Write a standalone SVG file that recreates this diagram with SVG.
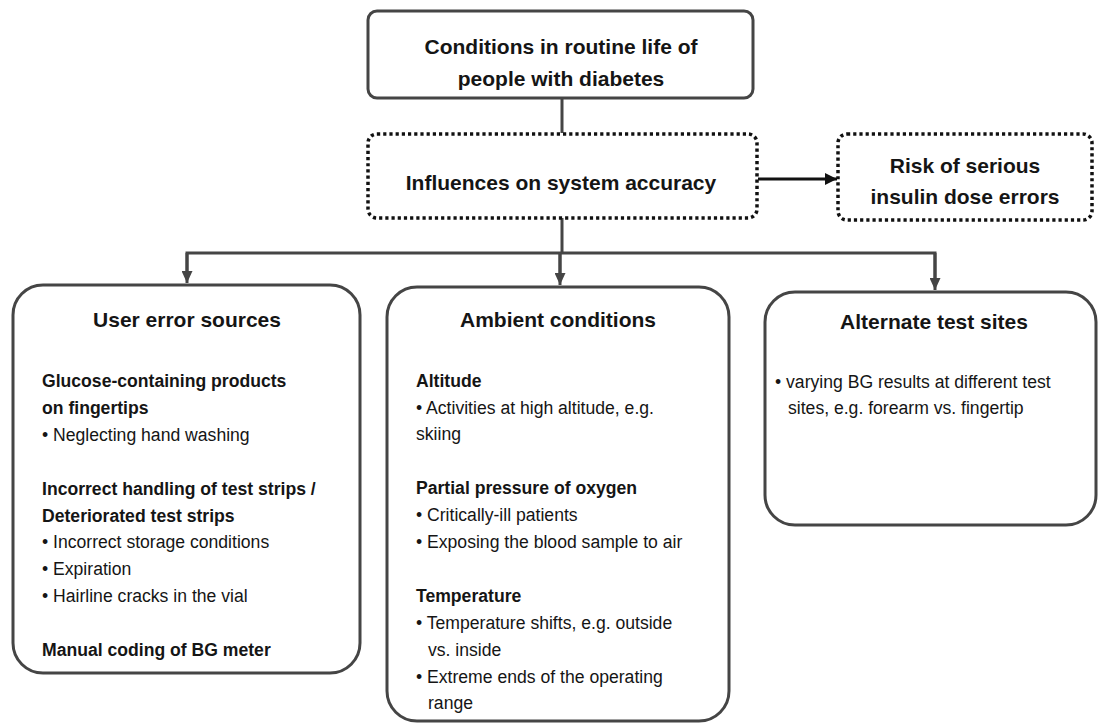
<svg xmlns="http://www.w3.org/2000/svg" width="1099" height="724" viewBox="0 0 1099 724">
<style>
text{font-family:"Liberation Sans",Arial,sans-serif;fill:#151515}
.h{font-size:21px;font-weight:bold;text-anchor:middle}
.s{font-size:17.6px;font-weight:bold}
.b{font-size:17.6px}
.solid{fill:#fff;stroke:#454545;stroke-width:3}
.dot{fill:#fff;stroke:#111;stroke-width:3.5;stroke-dasharray:3.2 3}
.ln{fill:none;stroke:#454545;stroke-width:3}
</style>
<defs>
<marker id="ah" markerWidth="11" markerHeight="12" refX="5.5" refY="12" orient="0" markerUnits="userSpaceOnUse">
<path d="M0,0 L11,0 L5.5,12 z" fill="#454545"/>
</marker>
<marker id="ahk" markerWidth="12" markerHeight="12" refX="12" refY="6" orient="auto" markerUnits="userSpaceOnUse">
<path d="M0,0 L12,6 L0,12 z" fill="#111"/>
</marker>
</defs>
<g id="connectors">
<line class="ln" x1="562" y1="98" x2="562" y2="133"/>
<line x1="758" y1="179" x2="837" y2="179" stroke="#111" stroke-width="3" marker-end="url(#ahk)"/>
<line class="ln" x1="562" y1="218" x2="562" y2="253"/>
<polyline class="ln" points="187,272 187,253 935,253 935,278"/>
<line class="ln" x1="187" y1="253" x2="187" y2="283" stroke-width="0" marker-end="url(#ah)"/>
<line class="ln" x1="560" y1="253" x2="560" y2="275"/>
<line class="ln" x1="560" y1="253" x2="560" y2="285" stroke-width="0" marker-end="url(#ah)"/>
<line class="ln" x1="935" y1="253" x2="935" y2="290" stroke-width="0" marker-end="url(#ah)"/>
</g>
<g id="n-conditions">
<rect class="solid" x="368" y="11" width="385" height="87" rx="9"/>
<text class="h" x="561" y="54">Conditions in routine life of</text>
<text class="h" x="561" y="86">people with diabetes</text>
</g>
<g id="n-influences">
<rect class="dot" x="368" y="134" width="389" height="84" rx="9"/>
<text class="h" x="561" y="190">Influences on system accuracy</text>
</g>
<g id="n-risk">
<rect class="dot" x="838" y="134" width="254" height="86" rx="9"/>
<text class="h" x="965" y="173">Risk of serious</text>
<text class="h" x="965" y="204">insulin dose errors</text>
</g>
<g id="n-user">
<rect class="solid" x="13" y="285" width="347" height="388" rx="30"/>
<text class="h" x="187" y="327">User error sources</text>
<text class="s" x="42" y="387">Glucose-containing products</text>
<text class="s" x="42" y="414">on fingertips</text>
<text class="b" x="42" y="441">• Neglecting hand washing</text>
<text class="s" x="42" y="495">Incorrect handling of test strips /</text>
<text class="s" x="42" y="522">Deteriorated test strips</text>
<text class="b" x="42" y="548">• Incorrect storage conditions</text>
<text class="b" x="42" y="575">• Expiration</text>
<text class="b" x="42" y="602">• Hairline cracks in the vial</text>
<text class="s" x="42" y="656">Manual coding of BG meter</text>
</g>
<g id="n-ambient">
<rect class="solid" x="387" y="287" width="342" height="434" rx="30"/>
<text class="h" x="558" y="327">Ambient conditions</text>
<text class="s" x="416" y="387">Altitude</text>
<text class="b" x="416" y="414">• Activities at high altitude, e.g.</text>
<text class="b" x="416" y="440">skiing</text>
<text class="s" x="416" y="494">Partial pressure of oxygen</text>
<text class="b" x="416" y="521">• Critically-ill patients</text>
<text class="b" x="416" y="548">• Exposing the blood sample to air</text>
<text class="s" x="416" y="602">Temperature</text>
<text class="b" x="416" y="629">• Temperature shifts, e.g. outside</text>
<text class="b" x="428" y="656">vs. inside</text>
<text class="b" x="416" y="683">• Extreme ends of the operating</text>
<text class="b" x="428" y="709">range</text>
</g>
<g id="n-alternate">
<rect class="solid" x="765" y="292" width="331" height="233" rx="30"/>
<text class="h" x="934" y="329">Alternate test sites</text>
<text class="b" x="775" y="388">• varying BG results at different test</text>
<text class="b" x="788" y="414">sites, e.g. forearm vs. fingertip</text>
</g>
</svg>
